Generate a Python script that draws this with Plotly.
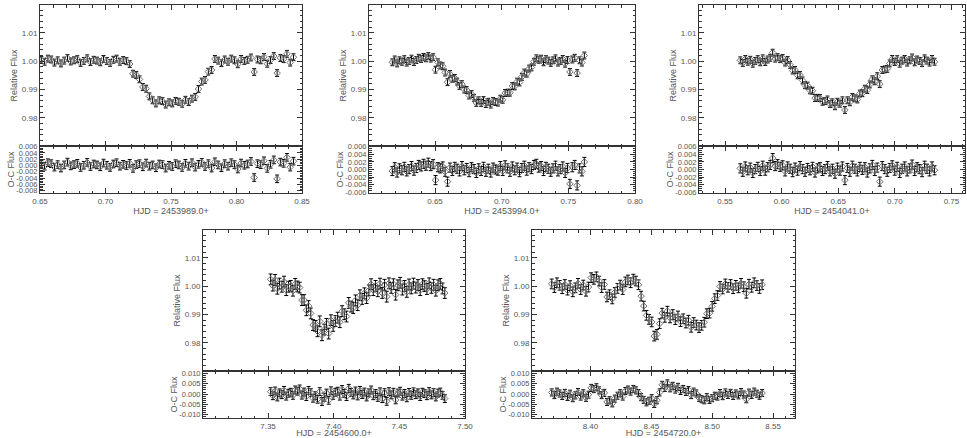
import plotly.graph_objects as go

W, H = 967, 438

# ---- transit 1 : HJD 2453989.0+
t1 = [0.6510, 0.6535, 0.6560, 0.6585, 0.6610, 0.6635, 0.6660, 0.6685, 0.6710, 0.6735,
      0.6760, 0.6785, 0.6810, 0.6835, 0.6860, 0.6885, 0.6910, 0.6935, 0.6960, 0.6985,
      0.7010, 0.7035, 0.7060, 0.7085, 0.7110, 0.7135, 0.7160, 0.7185, 0.7210, 0.7235,
      0.7260, 0.7285, 0.7310, 0.7335, 0.7360, 0.7385, 0.7410, 0.7435, 0.7460, 0.7485,
      0.7510, 0.7535, 0.7560, 0.7585, 0.7610, 0.7635, 0.7660, 0.7685, 0.7710, 0.7735,
      0.7760, 0.7785, 0.7810, 0.7835, 0.7860, 0.7885, 0.7910, 0.7935, 0.7960, 0.7985,
      0.8010, 0.8035, 0.8060, 0.8085, 0.8110, 0.8135, 0.8160, 0.8185, 0.8210, 0.8235,
      0.8260, 0.8285, 0.8310, 0.8335, 0.8360, 0.8385, 0.8410, 0.8435]
flux1 = [1.0004, 0.9998, 1.0009, 1.0006, 0.9995, 1.0003, 0.9992, 1.0002, 1.0011, 0.9999,
         1.0003, 1.0007, 0.9994, 1.0001, 1.0010, 0.9997, 1.0005, 1.0002, 0.9996, 1.0008,
         1.0001, 0.9994, 1.0005, 1.0009, 0.9998, 1.0004, 1.0000, 0.9990, 0.9956, 0.9951,
         0.9936, 0.9909, 0.9903, 0.9876, 0.9862, 0.9851, 0.9862, 0.9859, 0.9847, 0.9855,
         0.9851, 0.9860, 0.9857, 0.9850, 0.9864, 0.9856, 0.9868, 0.9874, 0.9902, 0.9928,
         0.9934, 0.9963, 0.9969, 1.0008, 1.0002, 0.9993, 1.0006, 0.9998, 1.0009, 1.0003,
         0.9989, 1.0008, 1.0001, 1.0005, 1.0013, 0.9962, 1.0006, 1.0003, 1.0015, 0.9991,
         1.0004, 1.0018, 0.9958, 1.0011, 1.0007, 1.0026, 0.9995, 1.0014]
oc1 = [0.0004, -0.0002, 0.0009, 0.0006, -0.0005, 0.0003, -0.0008, 0.0002, 0.0011, -0.0001,
       0.0003, 0.0007, -0.0006, 0.0001, 0.0010, -0.0003, 0.0005, 0.0002, -0.0004, 0.0008,
       0.0001, -0.0006, 0.0005, 0.0009, -0.0002, 0.0004, 0.0000, 0.0007, -0.0009, 0.0003,
       0.0006, -0.0004, 0.0008, -0.0002, 0.0002, -0.0007, 0.0005, 0.0003, -0.0008, 0.0001,
       -0.0003, 0.0006, 0.0002, -0.0006, 0.0007, -0.0002, 0.0009, -0.0005, 0.0004, 0.0010,
       -0.0003, 0.0006, -0.0008, 0.0012, 0.0002, -0.0007, 0.0006, -0.0002, 0.0009, 0.0003,
       -0.0011, 0.0008, 0.0001, 0.0005, 0.0013, -0.0038, 0.0006, 0.0003, 0.0015, -0.0009,
       0.0004, 0.0018, -0.0042, 0.0011, 0.0007, 0.0026, -0.0005, 0.0014]

# ---- transit 2 : HJD 2453994.0+
t2 = [0.6180, 0.6198, 0.6216, 0.6234, 0.6252, 0.6270, 0.6288, 0.6306, 0.6324, 0.6342,
      0.6360, 0.6378, 0.6396, 0.6414, 0.6432, 0.6450, 0.6468, 0.6486, 0.6504, 0.6522,
      0.6540, 0.6558, 0.6576, 0.6594, 0.6612, 0.6630, 0.6648, 0.6666, 0.6684, 0.6702,
      0.6720, 0.6738, 0.6756, 0.6774, 0.6792, 0.6810, 0.6828, 0.6846, 0.6864, 0.6882,
      0.6900, 0.6918, 0.6936, 0.6954, 0.6972, 0.6990, 0.7008, 0.7026, 0.7044, 0.7062,
      0.7080, 0.7098, 0.7116, 0.7134, 0.7152, 0.7170, 0.7188, 0.7206, 0.7224, 0.7242,
      0.7260, 0.7278, 0.7296, 0.7314, 0.7332, 0.7350, 0.7368, 0.7386, 0.7404, 0.7422,
      0.7440, 0.7458, 0.7476, 0.7494, 0.7512, 0.7530, 0.7548, 0.7566, 0.7584, 0.7602, 0.7620]
flux2 = [0.9996, 1.0006, 0.9992, 1.0003, 0.9998, 1.0007, 0.9995, 1.0001, 1.0009, 0.9997,
         1.0004, 1.0012, 1.0008, 1.0015, 1.0010, 1.0018, 1.0009, 1.0014, 0.9970, 0.9996,
         0.9985, 0.9982, 0.9960, 0.9926, 0.9955, 0.9938, 0.9941, 0.9928, 0.9913, 0.9919,
         0.9900, 0.9898, 0.9879, 0.9884, 0.9871, 0.9853, 0.9862, 0.9853, 0.9863, 0.9849,
         0.9857, 0.9847, 0.9860, 0.9856, 0.9854, 0.9868, 0.9864, 0.9888, 0.9889, 0.9889,
         0.9912, 0.9911, 0.9928, 0.9925, 0.9945, 0.9960, 0.9956, 0.9974, 0.9978, 0.9998,
         1.0010, 1.0005, 1.0009, 0.9996, 1.0007, 1.0002, 0.9994, 1.0003, 1.0010, 0.9995,
         1.0001, 1.0008, 0.9991, 1.0004, 0.9962, 1.0006, 1.0012, 0.9958, 1.0003, 0.9995, 1.0020]
oc2 = [-0.0004, 0.0006, -0.0008, 0.0003, -0.0002, 0.0007, -0.0005, 0.0001, 0.0009, -0.0003,
       0.0004, 0.0012, 0.0008, 0.0015, 0.0010, 0.0018, 0.0009, 0.0014, -0.0028, 0.0006,
       0.0003, 0.0008, -0.0006, -0.0032, 0.0005, -0.0004, 0.0007, 0.0002, -0.0005, 0.0009,
       -0.0002, 0.0004, -0.0007, 0.0006, 0.0001, -0.0009, 0.0003, -0.0004, 0.0007, -0.0006,
       0.0002, -0.0008, 0.0005, 0.0000, -0.0003, 0.0009, -0.0004, 0.0011, 0.0003, -0.0006,
       0.0008, -0.0002, 0.0005, -0.0007, 0.0004, 0.0010, -0.0003, 0.0006, 0.0001, 0.0012,
       0.0015, 0.0005, 0.0009, -0.0004, 0.0007, 0.0002, -0.0006, 0.0003, 0.0010, -0.0005,
       0.0001, 0.0008, -0.0009, 0.0004, -0.0038, 0.0006, 0.0012, -0.0042, 0.0003, -0.0005, 0.0020]

# ---- transit 3 : HJD 2454041.0+
t3 = [0.5635, 0.5657, 0.5679, 0.5701, 0.5723, 0.5745, 0.5767, 0.5789, 0.5811, 0.5833,
      0.5855, 0.5877, 0.5899, 0.5921, 0.5943, 0.5965, 0.5987, 0.6009, 0.6031, 0.6053,
      0.6075, 0.6097, 0.6119, 0.6141, 0.6163, 0.6185, 0.6207, 0.6229, 0.6251, 0.6273,
      0.6295, 0.6317, 0.6339, 0.6361, 0.6383, 0.6405, 0.6427, 0.6449, 0.6471, 0.6493,
      0.6515, 0.6537, 0.6559, 0.6581, 0.6603, 0.6625, 0.6647, 0.6669, 0.6691, 0.6713,
      0.6735, 0.6757, 0.6779, 0.6801, 0.6823, 0.6845, 0.6867, 0.6889, 0.6911, 0.6933,
      0.6955, 0.6977, 0.6999, 0.7021, 0.7043, 0.7065, 0.7087, 0.7109, 0.7131, 0.7153,
      0.7175, 0.7197, 0.7219, 0.7241, 0.7263, 0.7285, 0.7307, 0.7329, 0.7351]
flux3 = [1.0003, 0.9994, 1.0008, 0.9998, 1.0005, 0.9991, 1.0001, 1.0007, 0.9996, 1.0010,
         0.9997, 1.0006, 1.0012, 1.0030, 1.0009, 1.0014, 1.0007, 1.0011, 0.9995, 1.0004,
         0.9987, 0.9967, 0.9969, 0.9950, 0.9951, 0.9932, 0.9915, 0.9914, 0.9897, 0.9896,
         0.9870, 0.9871, 0.9870, 0.9857, 0.9859, 0.9865, 0.9849, 0.9855, 0.9841, 0.9857,
         0.9850, 0.9862, 0.9828, 0.9862, 0.9855, 0.9874, 0.9869, 0.9865, 0.9886, 0.9887,
         0.9903, 0.9898, 0.9918, 0.9936, 0.9929, 0.9947, 0.9919, 0.9969, 0.9971, 0.9973,
         0.9992, 1.0008, 0.9997, 1.0007, 0.9991, 1.0002, 1.0008, 0.9995, 1.0003, 1.0013,
         0.9996, 1.0006, 1.0001, 0.9993, 1.0010, 1.0002, 0.9995, 1.0008, 0.9998]
oc3 = [0.0003, -0.0006, 0.0008, -0.0002, 0.0005, -0.0009, 0.0001, 0.0007, -0.0004, 0.0010,
       -0.0003, 0.0006, 0.0012, 0.0030, 0.0009, 0.0014, 0.0007, 0.0011, -0.0005, 0.0008,
       0.0002, -0.0007, 0.0005, -0.0003, 0.0009, 0.0001, -0.0006, 0.0004, -0.0002, 0.0007,
       -0.0008, 0.0003, 0.0006, -0.0004, 0.0001, 0.0009, -0.0005, 0.0002, -0.0011, 0.0005,
       -0.0003, 0.0008, -0.0028, 0.0004, -0.0006, 0.0010, 0.0002, -0.0005, 0.0007, -0.0001,
       0.0006, -0.0008, 0.0003, 0.0012, -0.0004, 0.0005, -0.0032, 0.0009, 0.0001, -0.0006,
       0.0004, 0.0011, -0.0003, 0.0007, -0.0009, 0.0002, 0.0008, -0.0005, 0.0003, 0.0013,
       -0.0004, 0.0006, 0.0001, -0.0007, 0.0010, 0.0002, -0.0005, 0.0008, -0.0002]

# ---- transit 4 : HJD 2454600.0+
t4 = [7.3520, 7.3537, 7.3554, 7.3571, 7.3588, 7.3605, 7.3622, 7.3639, 7.3656, 7.3673,
      7.3690, 7.3707, 7.3724, 7.3741, 7.3758, 7.3775, 7.3792, 7.3809, 7.3826, 7.3843,
      7.3860, 7.3877, 7.3894, 7.3911, 7.3928, 7.3945, 7.3962, 7.3979, 7.3996, 7.4013,
      7.4030, 7.4047, 7.4064, 7.4081, 7.4098, 7.4115, 7.4132, 7.4149, 7.4166, 7.4183,
      7.4200, 7.4217, 7.4234, 7.4251, 7.4268, 7.4285, 7.4302, 7.4319, 7.4336, 7.4353,
      7.4370, 7.4387, 7.4404, 7.4421, 7.4438, 7.4455, 7.4472, 7.4489, 7.4506, 7.4523,
      7.4540, 7.4557, 7.4574, 7.4591, 7.4608, 7.4625, 7.4642, 7.4659, 7.4676, 7.4693,
      7.4710, 7.4727, 7.4744, 7.4761, 7.4778, 7.4795, 7.4812, 7.4829, 7.4846]
flux4 = [1.0024, 1.0002, 1.0022, 0.9991, 1.0009, 0.9998, 1.0016, 0.9986, 0.9998, 1.0001,
         0.9984, 1.0008, 0.9999, 0.9995, 0.9951, 0.9951, 0.9915, 0.9930, 0.9904, 0.9863,
         0.9860, 0.9841, 0.9876, 0.9827, 0.9847, 0.9867, 0.9833, 0.9880, 0.9860, 0.9877,
         0.9889, 0.9873, 0.9912, 0.9901, 0.9893, 0.9941, 0.9928, 0.9923, 0.9950, 0.9933,
         0.9968, 0.9955, 0.9975, 0.9958, 0.9985, 1.0007, 0.9986, 1.0001, 0.9982, 1.0009,
         0.9976, 1.0005, 0.9963, 1.0010, 0.9994, 1.0007, 0.9970, 1.0003, 1.0012, 0.9988,
         1.0001, 0.9980, 1.0006, 0.9992, 1.0009, 0.9995, 1.0004, 0.9986, 1.0007, 1.0000,
         0.9990, 1.0010, 0.9994, 1.0005, 0.9984, 1.0003, 1.0008, 0.9992, 0.9976]
oc4 = [0.0012, -0.0008, 0.0015, -0.0014, 0.0006, -0.0003, 0.0018, -0.0010, 0.0004, 0.0009,
       -0.0006, 0.0020, 0.0014, 0.0025, -0.0005, 0.0010, -0.0012, 0.0018, 0.0007, -0.0020,
       -0.0008, -0.0025, 0.0012, -0.0036, -0.0015, 0.0005, -0.0030, 0.0016, -0.0006, 0.0009,
       0.0014, -0.0010, 0.0022, 0.0003, -0.0012, 0.0028, 0.0008, -0.0004, 0.0015, -0.0009,
       0.0018, -0.0002, 0.0010, -0.0014, 0.0006, 0.0020, -0.0008, 0.0003, -0.0016, 0.0011,
       -0.0022, 0.0007, -0.0035, 0.0012, -0.0004, 0.0009, -0.0028, 0.0005, 0.0014, -0.0010,
       0.0003, -0.0018, 0.0008, -0.0006, 0.0011, -0.0003, 0.0006, -0.0012, 0.0009, 0.0002,
       -0.0008, 0.0012, -0.0004, 0.0007, -0.0014, 0.0005, 0.0010, -0.0006, -0.0022]

# ---- transit 5 : HJD 2454720.0+
t5 = [8.3682, 8.3704, 8.3725, 8.3747, 8.3768, 8.3790, 8.3812, 8.3833, 8.3855, 8.3876,
      8.3898, 8.3920, 8.3941, 8.3963, 8.3984, 8.4006, 8.4028, 8.4049, 8.4071, 8.4092,
      8.4114, 8.4136, 8.4157, 8.4179, 8.4200, 8.4222, 8.4244, 8.4265, 8.4287, 8.4308,
      8.4330, 8.4352, 8.4373, 8.4395, 8.4416, 8.4438, 8.4460, 8.4481, 8.4503, 8.4524,
      8.4546, 8.4568, 8.4589, 8.4611, 8.4632, 8.4654, 8.4676, 8.4697, 8.4719, 8.4740,
      8.4762, 8.4784, 8.4805, 8.4827, 8.4848, 8.4870, 8.4892, 8.4913, 8.4935, 8.4956,
      8.4978, 8.5000, 8.5021, 8.5043, 8.5064, 8.5086, 8.5108, 8.5129, 8.5151, 8.5172,
      8.5194, 8.5216, 8.5237, 8.5259, 8.5280, 8.5302, 8.5324, 8.5345, 8.5367, 8.5388, 8.5410]
flux5 = [1.0008, 0.9995, 1.0012, 1.0003, 0.9991, 1.0006, 0.9986, 1.0002, 0.9980, 0.9994,
         1.0010, 0.9988, 1.0004, 0.9982, 0.9997, 1.0030, 1.0024, 1.0033, 1.0018, 0.9995,
         1.0006, 0.9962, 0.9970, 0.9955, 0.9978, 0.9992, 1.0004, 0.9988, 1.0015, 1.0022,
         1.0012, 1.0025, 1.0018, 1.0005, 0.9965, 0.9930, 0.9897, 0.9883, 0.9874, 0.9824,
         0.9830, 0.9868, 0.9905, 0.9890, 0.9912, 0.9888, 0.9900, 0.9882, 0.9895, 0.9875,
         0.9885, 0.9870, 0.9880, 0.9855, 0.9872, 0.9863, 0.9854, 0.9862, 0.9873, 0.9903,
         0.9905, 0.9929, 0.9956, 0.9967, 0.9999, 0.9990, 1.0008, 0.9996, 1.0006, 0.9991,
         1.0003, 0.9994, 1.0010, 0.9998, 0.9975, 1.0007, 0.9996, 1.0012, 1.0002, 0.9992, 1.0005]
oc5 = [0.0008, -0.0005, 0.0012, 0.0003, -0.0009, 0.0006, -0.0014, 0.0002, -0.0020, -0.0006,
       0.0010, -0.0012, 0.0004, -0.0018, -0.0003, 0.0030, 0.0024, 0.0033, 0.0018, -0.0005,
       0.0006, -0.0038, -0.0030, -0.0045, -0.0022, -0.0008, 0.0004, -0.0012, 0.0015, 0.0022,
       0.0012, 0.0025, 0.0018, 0.0005, -0.0015, -0.0028, -0.0040, -0.0032, -0.0020, -0.0048,
       -0.0030, 0.0008, 0.0045, 0.0030, 0.0052, 0.0028, 0.0040, 0.0022, 0.0035, 0.0015,
       0.0025, 0.0010, 0.0020, -0.0005, 0.0012, 0.0003, -0.0018, -0.0025, -0.0030, -0.0015,
       -0.0028, -0.0020, -0.0008, -0.0012, 0.0005, -0.0010, 0.0008, -0.0004, 0.0006, -0.0009,
       0.0003, -0.0006, 0.0010, -0.0002, -0.0025, 0.0007, -0.0004, 0.0012, 0.0002, -0.0008, 0.0005]

flux_err = [0.0012, 0.0012, 0.0012, 0.0019, 0.0017]
hjd_zero = ["2453989.0", "2453994.0", "2454041.0", "2454600.0", "2454720.0"]

times = [t1, t2, t3, t4, t5]
fluxes = [flux1, flux2, flux3, flux4, flux5]
resids = [oc1, oc2, oc3, oc4, oc5]

# panel geometry in pixels: (left, right, top, split, bottom)
boxes = [(40, 302, 5, 146, 193), (369, 635, 5, 146, 193), (699, 965, 5, 146, 193),
         (203, 465, 230, 371, 418), (532, 795, 230, 371, 418)]
xranges = [[0.65, 0.85], [0.6005, 0.80], [0.527, 0.762], [7.3005, 7.50], [8.352, 8.568]]
ocranges = [[-0.0087, 0.0062], [-0.0062, 0.0062], [-0.0062, 0.0062],
            [-0.0116, 0.0112], [-0.0116, 0.0112]]
oc_ticks = [[-0.008, -0.006, -0.004, -0.002, 0.0, 0.002, 0.004, 0.006],
            [-0.006, -0.004, -0.002, 0.0, 0.002, 0.004, 0.006],
            [-0.006, -0.004, -0.002, 0.0, 0.002, 0.004, 0.006],
            [-0.010, -0.005, 0.0, 0.005, 0.010],
            [-0.010, -0.005, 0.0, 0.005, 0.010]]

INK = "#333333"
TXT = "#555555"
FONT = "Liberation Sans"

frame = dict(showline=True, linecolor=INK, linewidth=1, mirror="allticks",
             ticks="inside", ticklen=5, tickwidth=1, tickcolor=INK,
             showgrid=False, zeroline=False, automargin=False,
             tickfont=dict(family=FONT, size=8, color=TXT))


def minor(step):
    return dict(ticks="inside", ticklen=2.5, tickcolor=INK, dtick=step, tick0=0, showgrid=False)


fig = go.Figure()
layout = {}

for i in range(5):
    a, b = 2 * i + 1, 2 * i + 2
    left, right, top, split, bottom = boxes[i]
    xdom = [left / W, right / W]
    main_dom = [1 - split / H, 1 - top / H]
    res_dom = [1 - bottom / H, 1 - split / H]

    err_style = dict(type="constant", value=flux_err[i], color="black", thickness=1, width=2)
    mk = dict(symbol="diamond-open", size=5, color="#6e6e6e", line=dict(width=1))

    fig.add_trace(go.Scatter(x=times[i], y=fluxes[i], mode="markers", marker=mk,
                             error_y=err_style, xaxis=f"x{a}", yaxis=f"y{a}",
                             showlegend=False, hoverinfo="skip"))
    fig.add_trace(go.Scatter(x=times[i], y=resids[i], mode="markers", marker=mk,
                             error_y=err_style, xaxis=f"x{b}", yaxis=f"y{b}",
                             showlegend=False, hoverinfo="skip"))

    layout[f"xaxis{a}"] = dict(frame, domain=xdom, anchor=f"y{a}", range=xranges[i],
                               tick0=0, dtick=0.05, showticklabels=False, minor=minor(0.01))
    layout[f"yaxis{a}"] = dict(frame, domain=main_dom, anchor=f"x{a}", range=[0.9701, 1.0198],
                               tick0=0, dtick=0.01, tickformat=".2f", minor=minor(0.002),
                               title=dict(text="Relative Flux", standoff=2,
                                          font=dict(family=FONT, size=9, color=TXT)))
    layout[f"xaxis{b}"] = dict(frame, domain=xdom, anchor=f"y{b}", range=xranges[i],
                               tick0=0, dtick=0.05, tickformat=".2f", minor=minor(0.01),
                               title=dict(text=f"HJD = {hjd_zero[i]}+", standoff=1,
                                          font=dict(family=FONT, size=9, color=TXT)))
    ticks = oc_ticks[i]
    layout[f"yaxis{b}"] = dict(frame, domain=res_dom, anchor=f"x{b}", range=ocranges[i],
                               tickmode="array", tickvals=ticks,
                               ticktext=[f"{v:.3f}".replace("-0.000", "0.000") for v in ticks],
                               tickfont=dict(family=FONT, size=7.5, color=TXT),
                               minor=minor(0.001 if i >= 3 else 0.0005),
                               title=dict(text="O-C Flux", standoff=0,
                                          font=dict(family=FONT, size=9, color=TXT)))

fig.update_layout(width=W, height=H, margin=dict(l=0, r=0, t=0, b=0),
                  paper_bgcolor="white", plot_bgcolor="white", **layout)

# the page body has a default 8px margin; drop it so the figure fills the window
fig.write_html("out.html", config={"displayModeBar": False},
               post_script="document.body.style.margin='0px';")
